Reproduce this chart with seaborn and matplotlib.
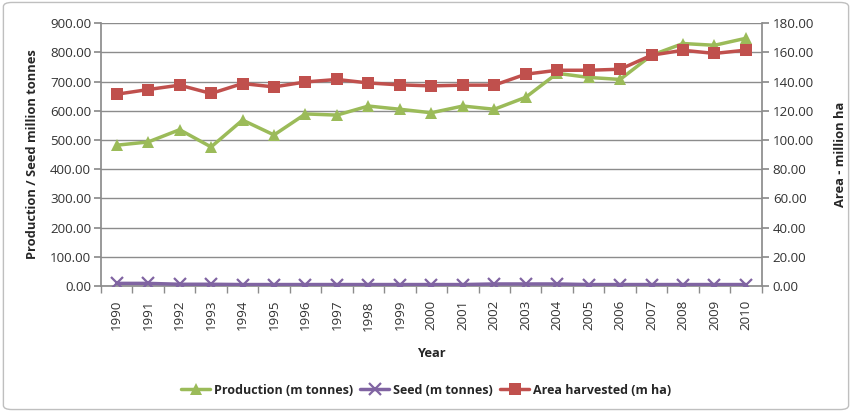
import matplotlib
matplotlib.use("Agg")
import matplotlib.pyplot as plt
import seaborn as sns
import pandas as pd
import numpy as np
from matplotlib.patches import FancyBboxPatch
from matplotlib.lines import Line2D

years = [str(y) for y in range(1990, 2011)]
production = [482, 493, 535, 476, 568, 517, 589, 585, 616, 605, 593, 616, 605, 646, 728, 714, 707, 790, 830, 824, 848]
seed = [9, 9, 6, 6, 5, 5, 5, 5, 5, 5, 5, 5, 7, 7, 7, 5, 5, 5, 5, 5, 5]
area = [131.3, 134.5, 137.5, 131.8, 138.6, 136.3, 139.7, 141.4, 139.0, 137.7, 137.0, 137.5, 137.5, 145.0, 147.7, 147.7, 148.4, 158.0, 161.4, 159.2, 161.5]
left_ticks = [0, 100, 200, 300, 400, 500, 600, 700, 800, 900]
right_ticks = [0, 20, 40, 60, 80, 100, 120, 140, 160, 180]

sns.set_theme(style="white")
plt.rcParams['font.family'] = ['Open Sans', 'DejaVu Sans']

GREEN = "#9BBB59"
PURPLE = "#8064A2"
RED = "#C0504D"
GRID = "#8C8C8C"
TXT = "#333333"
FS = 9.6

df = pd.DataFrame({"idx": np.arange(len(years)), "production": production, "seed": seed, "area": area})

fig = plt.figure(figsize=(8.52, 4.12), dpi=100)
fig.patches.append(FancyBboxPatch((0.004, 0.006), 0.992, 0.988, boxstyle="round,pad=0,rounding_size=0.01",
                                  transform=fig.transFigure, fill=False, edgecolor="#BFBFBF", linewidth=1.0))
ax = fig.add_axes([0.1185, 0.3058, 0.7755, 0.6382])
ax2 = ax.twinx()

sns.lineplot(data=df, x="idx", y="production", ax=ax, color=GREEN, linewidth=2.5, marker="^",
             markersize=8, markeredgewidth=0, zorder=3)
sns.lineplot(data=df, x="idx", y="seed", ax=ax, color=PURPLE, linewidth=2.5, marker="x",
             markersize=8, markeredgewidth=1.6, markeredgecolor=PURPLE, zorder=3)
sns.lineplot(data=df, x="idx", y="area", ax=ax2, color=RED, linewidth=2.5, marker="s",
             markersize=8, markeredgewidth=0, zorder=3)

ax.set_xlim(-0.5, len(years) - 0.5)
ax.set_ylim(0, 900)
ax2.set_ylim(0, 180)
ax.set_yticks(left_ticks)
ax.set_yticklabels([f"{v:.2f}" for v in left_ticks], fontsize=FS, color=TXT)
ax2.set_yticks(right_ticks)
ax2.set_yticklabels([f"{v:.2f}" for v in right_ticks], fontsize=FS, color=TXT)
ax.set_xticks(np.arange(len(years)))
ax.set_xticklabels(years, rotation=90, fontsize=FS, color=TXT)
ax.set_xticks(np.arange(-0.5, len(years)), minor=True)

ax.grid(axis="y", color=GRID, linewidth=1.0)
ax.set_axisbelow(True)
ax2.grid(False)

for a in (ax, ax2):
    for s in a.spines.values():
        s.set_visible(False)
ax.spines["left"].set_visible(True)
ax.spines["left"].set_color(GRID)
ax.spines["bottom"].set_visible(True)
ax.spines["bottom"].set_color(GRID)
ax2.spines["right"].set_visible(True)
ax2.spines["right"].set_color(GRID)

ax.tick_params(axis="x", which="major", length=0, pad=10)
ax.tick_params(axis="x", which="minor", length=5, color=GRID, direction="out", bottom=True)
ax.tick_params(axis="y", length=5, color=GRID, direction="out", left=True, pad=2)
ax2.tick_params(axis="y", length=5, color=GRID, direction="out", right=True, pad=3)

ax.set_xlabel("Year", fontsize=9.3, fontweight="bold", labelpad=12)
ax.set_ylabel("Production / Seed million tonnes", fontsize=9.3, fontweight="bold", labelpad=8)
ax2.set_ylabel("Area - million ha", fontsize=9.3, fontweight="bold", labelpad=14)

handles = [
    Line2D([], [], color=GREEN, linewidth=2.5, marker="^", markersize=8, markeredgewidth=0),
    Line2D([], [], color=PURPLE, linewidth=2.5, marker="x", markersize=8, markeredgewidth=1.6),
    Line2D([], [], color=RED, linewidth=2.5, marker="s", markersize=8, markeredgewidth=0),
]
labels = ["Production (m tonnes)", "Seed (m tonnes)", "Area harvested (m ha)"]
fig.legend(handles, labels, loc="center", bbox_to_anchor=(0.5, 0.053), ncol=3, frameon=False,
           prop={"size": 9, "weight": "bold"}, handlelength=2.3, handletextpad=0.3, columnspacing=0.6)

fig.savefig("out.png", dpi=100)
